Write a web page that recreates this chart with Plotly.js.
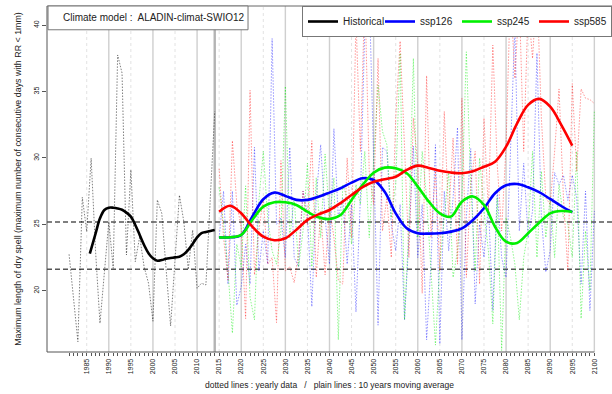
<!DOCTYPE html>
<html>
<head>
<meta charset="utf-8">
<script src="https://cdn.plot.ly/plotly-3.0.1.min.js"></script>
<style>html,body{margin:0;padding:0;background:#fff;}#chart{width:612px;height:394px;}</style>
</head>
<body>
<div id="chart"></div>
<script>
// ---- data ----
const histStartYear = 1981;
const histValues = [22.74, 19.4, 16.16, 27.04, 24.45, 29.98, 23.0, 17.54, 21.6, 25.2,
  21.69, 37.76, 36.4, 22.69, 29.1, 22.19, 24.07, 21.8, 20.56, 17.7,
  26.84, 25.83, 21.56, 17.34, 22.3, 27.2, 25.2, 21.6, 24.57, 20.18,
  20.56, 20.43, 27.0, 33.5];

const histMAYears = [1985.7, 1987, 1988, 1989, 1990, 1991, 1992, 1993, 1994, 1995, 1996, 1997, 1998, 1999,
  2000, 2001, 2002, 2003, 2004, 2005, 2006, 2007, 2008, 2009, 2010, 2011, 2012, 2013, 2014];
const histMA = [22.8, 24.3, 25.45, 26.08, 26.25, 26.25, 26.2, 26.1, 25.88, 25.58, 24.95, 24.2, 23.44, 22.82,
  22.44, 22.26, 22.31, 22.41, 22.46, 22.51, 22.56, 22.74, 23.07, 23.52, 24.02, 24.33, 24.42, 24.5, 24.57];

const scenStartYear = 2015;
const ssp126 = [24.0, 27.5, 20.5, 27.5, 18.9, 20.3, 23.5, 20.5, 30.8, 21.5,
  24.5, 22.0, 39.0, 25.0, 25.5, 22.5, 30.8, 22.5, 21.8, 27.5,
  25.8, 18.8, 27.0, 31.0, 25.5, 22.0, 32.2, 25.5, 27.0, 22.0,
  26.5, 18.4, 27.0, 39.8, 42.5, 30.5, 17.4, 30.8, 30.5, 25.0,
  23.0, 26.5, 17.8, 24.0, 30.9, 22.5, 26.5, 16.3, 22.0, 31.0,
  16.0, 27.5, 23.0, 27.0, 32.3, 16.3, 25.5, 30.7, 19.0, 25.0,
  22.5, 26.5, 18.5, 27.5, 22.5, 21.0, 30.5, 40.0, 24.5, 29.6,
  24.0, 26.0, 37.9, 25.5, 21.4, 23.0, 28.9, 28.0, 28.7, 26.8,
  28.7, 27.0, 20.5, 27.5, 18.5, 26.0];
const ssp245 = [27.8, 25.0, 21.5, 16.8, 23.5, 21.8, 27.9, 19.5, 17.8, 26.8,
  30.5, 25.5, 23.0, 22.0, 24.5, 35.4, 24.0, 27.0, 21.8, 24.5,
  29.6, 21.8, 28.5, 24.0, 30.3, 25.5, 28.5, 16.3, 28.0, 27.0,
  23.5, 28.0, 26.5, 30.5, 24.0, 29.5, 35.5, 32.0, 31.0, 25.5,
  28.0, 37.9, 17.8, 25.0, 37.5, 24.0, 30.5, 27.0, 21.0, 15.9,
  22.0, 25.5, 29.0, 21.0, 23.0, 27.0, 38.0, 28.0, 21.5, 30.0,
  26.0, 23.0, 17.5, 27.0, 15.5, 25.5, 24.0, 22.0, 17.8, 22.5,
  24.5, 30.5, 22.5, 29.0, 24.0, 27.0, 22.5, 28.0, 25.5, 25.0,
  22.5, 30.5, 17.9, 24.5, 20.0, 33.6];
const ssp585 = [29.2, 24.0, 20.8, 31.3, 26.5, 24.8, 17.9, 35.1, 21.2, 24.5,
  27.0, 22.0, 22.5, 17.6, 29.8, 21.5, 21.8, 20.6, 22.8, 27.5,
  25.0, 31.3, 21.0, 26.0, 21.2, 26.3, 24.0, 20.8, 20.5, 30.0,
  24.0, 40.5, 30.5, 42.5, 29.0, 26.5, 37.5, 24.5, 27.0, 22.5,
  33.0, 38.8, 30.8, 22.5, 33.0, 29.5, 19.8, 36.2, 24.0, 29.0,
  21.5, 33.5, 25.5, 31.5, 22.0, 34.5, 21.0, 28.0, 30.5, 20.5,
  33.0, 26.0, 38.5, 29.5, 24.5, 31.0, 42.5, 36.0, 42.0, 30.5,
  41.5, 37.5, 43.0, 33.0, 27.0, 26.5, 30.5, 35.2, 27.0, 21.5,
  35.6, 29.0, 35.2, 34.5, 34.4, 34.1];

const scenMAYears = [2015, 2017.5, 2020, 2022.5, 2025, 2027.5, 2030, 2032.5, 2035, 2037.5, 2040, 2042.5,
  2045, 2047.5, 2050, 2052.5, 2055, 2057.5, 2060, 2062.5, 2065, 2067.5, 2070, 2072.5, 2075, 2077.5,
  2080, 2082.5, 2085, 2087.5, 2090, 2092.5, 2095];
const ssp126MA = [24.02, 24.02, 24.2, 25.58, 26.89, 27.39, 27.14, 26.84, 26.84, 27.08, 27.39, 27.72,
  28.14, 28.47, 28.34, 27.46, 25.83, 24.7, 24.33, 24.3, 24.33, 24.45, 24.7, 25.33, 26.21, 27.34,
  27.94, 28.04, 27.79, 27.42, 26.91, 26.38, 25.91];
const ssp245MA = [24.02, 24.02, 24.2, 25.33, 26.33, 26.66, 26.66, 26.46, 25.95, 25.53, 25.4, 25.7,
  26.84, 27.97, 28.89, 29.27, 29.22, 28.85, 27.84, 26.71, 25.83, 25.58, 26.71, 27.1, 26.46, 24.82,
  23.69, 23.6, 24.33, 25.12, 25.83, 26.0, 25.95];
const ssp585MA = [25.95, 26.4, 25.83, 24.82, 24.07, 23.8, 23.95, 24.6, 25.33, 25.75, 26.08, 26.6,
  27.21, 27.8, 28.21, 28.4, 28.59, 29.1, 29.42, 29.25, 29.04, 28.9, 28.85, 29.0, 29.34, 29.72,
  30.85, 32.61, 34.0, 34.45, 33.87, 32.5, 30.93];

const refLines = [25.17, 21.61];
const yTicks = [20, 25, 30, 35, 40];
const tickFirstYear = 1981, tickLastYear = 2100, labelStep = 5;
const splitYear = 2014;
const modelLabel = 'Climate model :\u00a0 ALADIN-climat-SWIO12';
const seriesNames = ['Historical', 'ssp126', 'ssp245', 'ssp585'];

// ---- build ----
const yearsFrom = (start, n) => Array.from({length: n}, (_, i) => start + i);
const histYears = yearsFrom(histStartYear, histValues.length);
const scenYears = yearsFrom(scenStartYear, ssp126.length);

const FONT = 'Liberation Sans, Arial, Helvetica, sans-serif';
const dotted = (x, y, color) => ({x, y, type: 'scatter', mode: 'lines', showlegend: false, hoverinfo: 'skip',
  line: {color, width: 1, dash: '1.5px,1.5px'}});
const smooth = (x, y, color, name) => ({x, y, type: 'scatter', mode: 'lines', name,
  line: {color, width: 2.6, shape: 'spline', smoothing: 1}});

const traces = [
  dotted(histYears, histValues, 'rgba(0,0,0,0.5)'),
  dotted(scenYears, ssp126, 'rgba(0,0,255,0.42)'),
  dotted(scenYears, ssp245, 'rgba(0,235,0,0.45)'),
  dotted(scenYears, ssp585, 'rgba(255,0,0,0.42)'),
  smooth(histMAYears, histMA, '#000000', seriesNames[0]),
  smooth(scenMAYears, ssp126MA, '#0000ff', seriesNames[1]),
  smooth(scenMAYears, ssp245MA, '#00f000', seriesNames[2]),
  smooth(scenMAYears, ssp585MA, '#ff0000', seriesNames[3])
];

const tickVals = yearsFrom(tickFirstYear, tickLastYear - tickFirstYear + 1);
const tickText = tickVals.map(v => (v % labelStep === 0 ? String(v) : ''));

const shapes = [];
// vertical grid: solid each decade, dotted on the 5s
tickVals.filter(v => v % labelStep === 0).forEach(v => {
  const decade = v % 10 === 0;
  shapes.push({type: 'line', layer: 'below', xref: 'x', yref: 'paper', x0: v, x1: v, y0: 0, y1: 1,
    line: {color: decade ? '#cfcfcf' : '#e2e2e2', width: decade ? 1.4 : 1, dash: decade ? 'solid' : 'dot'}});
});
shapes.push({type: 'line', layer: 'below', xref: 'x', yref: 'paper', x0: splitYear, x1: splitYear, y0: 0, y1: 1,
  line: {color: '#b4b4b4', width: 2.4}});
refLines.forEach(v => shapes.push({type: 'line', layer: 'below', xref: 'paper', yref: 'y', x0: 0, x1: 1, y0: v, y1: v,
  line: {color: '#555555', width: 1.4, dash: '5px,3px'}}));
// frame: top line, left axis line, bottom axis line up to the last tick
shapes.push({type: 'line', layer: 'above', xref: 'paper', yref: 'paper', x0: 0, x1: 1, y0: 1, y1: 1,
  line: {color: '#666', width: 1}});
shapes.push({type: 'line', layer: 'above', xref: 'paper', yref: 'paper', x0: 0, x1: 0, y0: 0, y1: 1,
  line: {color: '#555', width: 1}});
shapes.push({type: 'line', layer: 'above', xref: 'x', yref: 'paper', x0: 1976, x1: tickLastYear, y0: 0, y1: 0,
  line: {color: '#555', width: 1}});
// model box
shapes.push({type: 'rect', layer: 'above', xref: 'paper', yref: 'paper', x0: 0.0018, x1: 0.3558, y0: 0.9313, y1: 1,
  line: {color: '#777', width: 1}, fillcolor: '#ffffff'});

const layout = {
  width: 612, height: 394,
  margin: {l: 47, r: 0, t: 6, b: 42, pad: 0},
  paper_bgcolor: '#ffffff', plot_bgcolor: '#ffffff',
  font: {family: FONT, color: '#222'},
  showlegend: true,
  legend: {orientation: 'h', x: 1, xanchor: 'right', y: 1, yanchor: 'top', xref: 'paper', yref: 'paper',
    bgcolor: '#ffffff', bordercolor: '#777', borderwidth: 1, font: {size: 10, family: FONT, color: '#222'},
    entrywidth: 32, entrywidthmode: 'pixels', traceorder: 'normal', itemwidth: 30},
  xaxis: {range: [1976, 2104], showgrid: false, zeroline: false, showline: false,
    tickmode: 'array', tickvals: tickVals, ticktext: tickText, ticks: 'outside', ticklen: 3, tickwidth: 1,
    tickcolor: '#555', tickangle: -90, tickfont: {size: 7, family: FONT, color: '#222'},
    title: {text: 'dotted lines : yearly data \u00a0 / \u00a0 plain lines : 10 years moving average',
      font: {size: 8.5, family: FONT, color: '#222'}, standoff: 8}},
  yaxis: {range: [15.38, 41.45], showgrid: false, zeroline: false, showline: false,
    tickmode: 'array', tickvals: yTicks, ticks: 'outside', ticklen: 4, tickwidth: 1, tickcolor: '#555',
    tickangle: -90, tickfont: {size: 7, family: FONT, color: '#222'},
    title: {text: 'Maximum length of dry spell (maximum number of consecutive days with RR < 1mm)',
      font: {size: 8.9, family: FONT, color: '#222'}, standoff: 10}},
  shapes: shapes,
  annotations: [{xref: 'paper', yref: 'paper', x: 0.1888, y: 0.9656, xanchor: 'center', yanchor: 'middle',
    text: modelLabel, showarrow: false, font: {size: 10, family: FONT, color: '#222'}}]
};

Plotly.newPlot('chart', traces, layout, {displayModeBar: false, staticPlot: true});
</script>
</body>
</html>
